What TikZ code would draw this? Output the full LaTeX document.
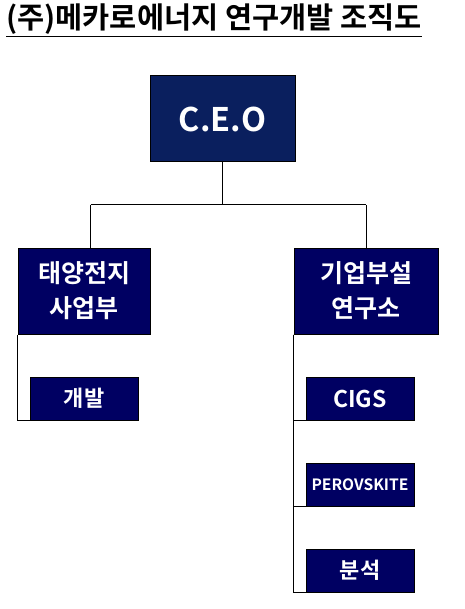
\documentclass[tikz,border=0pt]{standalone}
\usepackage{fontspec}
\setmainfont{Noto Sans CJK KR}[BoldFont={* Bold}]
\usetikzlibrary{positioning}
\definecolor{ceoblue}{RGB}{10,31,94}
\definecolor{deptblue}{RGB}{0,0,98}
\begin{document}
\begin{tikzpicture}[x=1pt, y=-1pt,
  dept/.style={rectangle, draw=black, line width=1pt, fill=deptblue, text=white,
    font=\bfseries\fontsize{25}{35}\selectfont, align=center, inner sep=0pt,
    minimum width=132pt, minimum height=86pt},
  team/.style={rectangle, draw=black, line width=1pt, fill=deptblue, text=white,
    font=\bfseries\fontsize{22}{26}\selectfont, inner sep=0pt,
    minimum width=108pt, minimum height=43pt},
  link/.style={draw=black, line width=1pt}]
  \useasboundingbox (0,0) rectangle (464,609);

  % Title
  \node[anchor=base west, inner sep=0pt, font=\bfseries\fontsize{29.5}{32}\selectfont] (title) at (6,29)
    {\underline{(주)메카로에너지 연구개발 조직도}};

  % CEO
  \node[rectangle, draw=black, line width=1pt, fill=ceoblue, text=white, inner sep=0pt,
    minimum width=145pt, minimum height=86pt, font=\bfseries\fontsize{32.5}{36}\selectfont] (ceo) at (222.5,119) {C.E.O};

  % Departments
  \node[dept] (solar) at (84,291) {태양전지\\사업부};
  \node[dept, minimum width=144pt] (lab) at (366,291) {기업부설\\연구소};

  % Teams
  \node[team] (dev) at (84,398.5) {개발};
  \node[team, font=\bfseries\fontsize{23}{26}\selectfont] (cigs) at (360,398.5) {CIGS};
  \node[team, font=\bfseries\fontsize{15.6}{18}\selectfont] (perov) at (360,484.5) {PEROVSKITE};
  \node[team] (anal) at (360,570.5) {분석};

  % Lines
  \coordinate (busL) at (90.5,205);
  \coordinate (busR) at (lab.north |- busL);
  \draw[link] (ceo.south) -- (ceo.south |- busL);
  \draw[link] (busL) -- (busR);
  \draw[link] (busL) -- (busL |- solar.north);
  \draw[link] (busR) -- (lab.north);
  \draw[link] (solar.south west) |- (dev.south west);
  \foreach \t in {cigs,perov,anal}
    \draw[link] (lab.south west) |- (\t.south west);
\end{tikzpicture}
\end{document}
